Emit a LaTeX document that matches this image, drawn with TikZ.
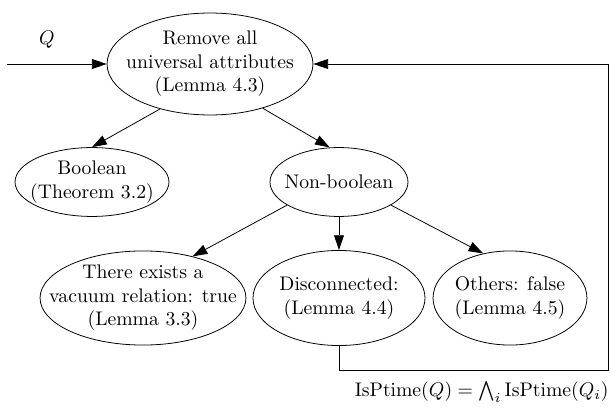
\documentclass[tikz,border=0pt]{standalone}
\usetikzlibrary{shapes.geometric,arrows.meta}

\begin{document}
\begin{tikzpicture}[x=0.508pt,y=-0.508pt,
	stage/.style={ellipse,draw,inner sep=0pt},
	flow/.style={-{Triangle[length=7.5pt,width=5pt]}}]
	\useasboundingbox (0,0) rectangle (611,410);
	% the stages
	\node[stage,minimum width=104.6pt,minimum height=51.8pt,
		label={[align=center]center:{Remove all\\universal attributes\\(Lemma 4.3)}}] (remove) at (210,64) {};
	\node[stage,minimum width=78.2pt,minimum height=35pt,
		label={[align=center]center:{Boolean\\(Theorem 3.2)}}] (boolean) at (92,182) {};
	\node[stage,minimum width=70.1pt,minimum height=35pt,
		label={center:Non-boolean}] (nonboolean) at (339,182) {};
	\node[stage,minimum width=104.6pt,minimum height=47.8pt,
		label={[align=center]center:{There exists a\\vacuum relation: true\\(Lemma 3.3)}}] (vacuum) at (143,298) {};
	\node[stage,minimum width=87.4pt,minimum height=48.3pt,
		label={[align=center]center:{Disconnected:\\(Lemma 4.4)}}] (disconnected) at (339,298) {};
	\node[stage,minimum width=78.2pt,minimum height=47.8pt,
		label={[align=center]center:{Others: false\\(Lemma 4.5)}}] (others) at (510,298) {};
	% input and loop back
	\coordinate (input) at (7,64);
	\coordinate (corner) at (608,370);
	\node (query) at (47,40) {$Q$};
	\node[anchor=east,inner xsep=1pt] (isptime) at (611,392) {$\mathrm{IsPtime}(Q)=\bigwedge_i\mathrm{IsPtime}(Q_i)$};
	\draw[flow] (input) -- (remove.west);
	\draw[flow] (remove.222) -- (boolean.north);
	\draw[flow] (remove.320) -- (nonboolean.105);
	\draw[flow] (nonboolean.204) -- (vacuum.40);
	\draw[flow] (nonboolean.south) -- (disconnected.north);
	\draw[flow] (nonboolean.336) -- (others.121);
	\draw[flow] (disconnected.south) |- (corner) |- (remove.east);
\end{tikzpicture}
\end{document}
